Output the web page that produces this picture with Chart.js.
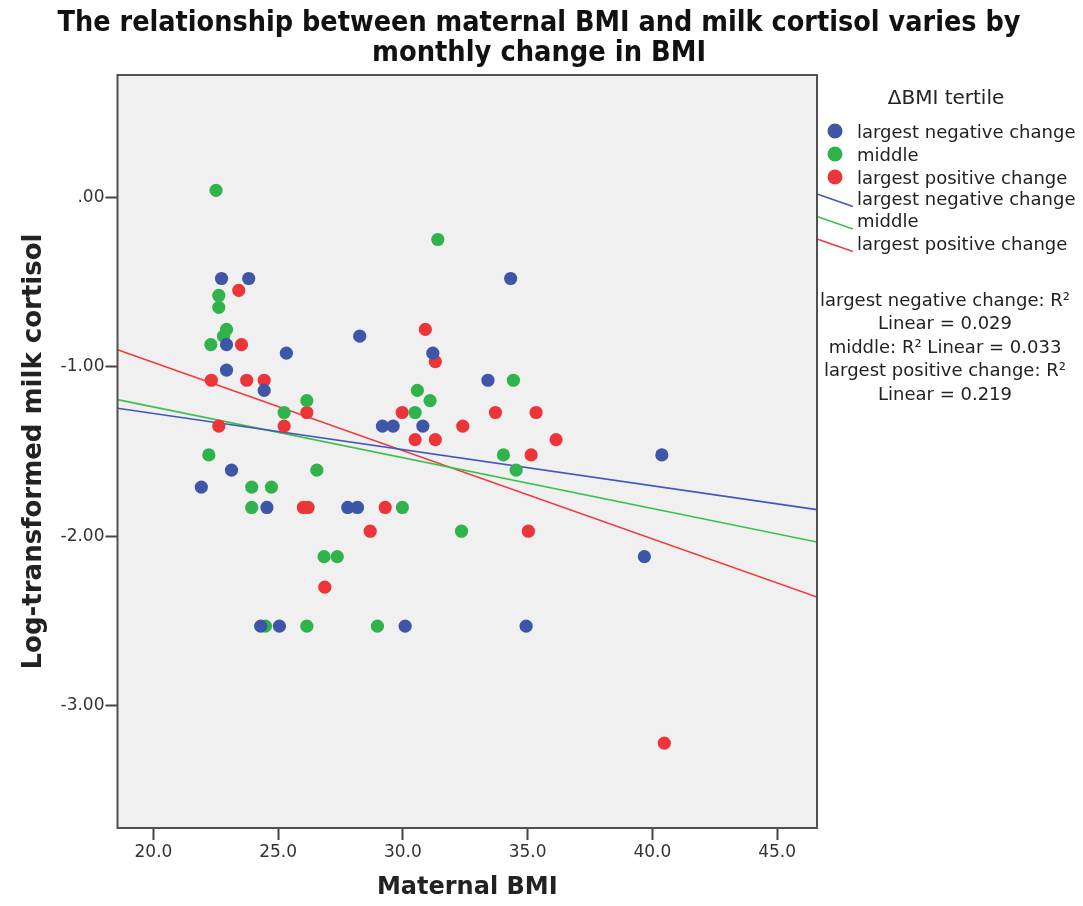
<!DOCTYPE html>
<html>
<head>
<meta charset="utf-8">
<title>Maternal BMI and milk cortisol</title>
<script src="https://cdn.jsdelivr.net/npm/chart.js@4.4.0/dist/chart.umd.min.js"></script>
<style>
  html, body { margin: 0; padding: 0; background: #fff; }
  #wrap { width: 1083px; height: 906px; }
</style>
</head>
<body>
<div id="wrap"><canvas id="chart" width="1083" height="906"></canvas></div>
<script>
// maternal BMI (x) and log-transformed milk cortisol (y), split by ΔBMI tertile
const negBMI = [21.92, 22.73, 23.82, 22.93, 22.93, 25.33, 24.44, 23.13, 24.55, 24.30, 25.05, 28.27,
  31.20, 29.18, 29.61, 30.80, 27.79, 28.18, 30.09, 34.32, 33.41, 34.94, 40.38, 39.68];
const negCortisol = [-1.71, -0.48, -0.48, -0.87, -1.02, -0.92, -1.14, -1.61, -1.83, -2.53, -2.53, -0.82,
  -0.92, -1.35, -1.35, -1.35, -1.83, -1.83, -2.53, -0.48, -1.08, -2.53, -1.52, -2.12];

const midBMI = [22.51, 22.62, 22.62, 22.93, 22.81, 22.30, 31.40, 25.24, 22.22, 23.94, 24.73, 23.94,
  24.49, 26.15, 30.58, 31.09, 30.49, 26.55, 29.98, 32.35, 26.84, 27.37, 26.15, 28.98, 34.43, 34.03, 34.54];
const midCortisol = [0.04, -0.58, -0.65, -0.78, -0.82, -0.87, -0.25, -1.27, -1.52, -1.71, -1.71, -1.83,
  -2.53, -1.20, -1.14, -1.20, -1.27, -1.61, -1.83, -1.97, -2.12, -2.12, -2.53, -2.53, -1.08, -1.52, -1.61];

const posBMI = [23.42, 23.53, 22.32, 23.74, 24.44, 25.24, 22.62, 30.90, 31.30, 26.15, 29.97, 30.49,
  31.30, 32.40, 26.01, 26.20, 29.29, 28.69, 26.87, 33.71, 35.34, 36.14, 35.14, 35.03, 40.48];
const posCortisol = [-0.55, -0.87, -1.08, -1.08, -1.08, -1.35, -1.35, -0.78, -0.97, -1.27, -1.27, -1.43,
  -1.43, -1.35, -1.83, -1.83, -1.83, -1.97, -2.30, -1.27, -1.27, -1.43, -1.52, -1.97, -3.22];

// linear fit lines, value at each end of the BMI range
const fitBMI = [18.56, 46.6];
const negFit = [-1.245, -1.843];
const midFit = [-1.194, -2.034];
const posFit = [-0.90, -2.358];

const groupNames = ['largest negative change', 'middle', 'largest positive change'];
const r2Lines = ['largest negative change: R\u00B2', 'Linear = 0.029', 'middle: R\u00B2 Linear = 0.033',
  'largest positive change: R\u00B2', 'Linear = 0.219'];

const xTicks = [20, 25, 30, 35, 40, 45];
const yTicks = [-3, -2, -1, 0];

const dotColors = ['#3D56A8', '#31B34B', '#EC3539'];
const lineColors = ['#4256BE', '#3CC04C', '#F03A3F'];

const zip = (xs, ys) => xs.map((x, i) => ({ x: x, y: ys[i] }));

function dots(label, xs, ys, color) {
  return {
    label: label, data: zip(xs, ys), order: 1,
    backgroundColor: color, borderWidth: 0, pointRadius: 6.6, pointHoverRadius: 6.6
  };
}

function fit(label, ys, color) {
  return {
    type: 'line', label: label, data: zip(fitBMI, ys), order: 2,
    showLine: true, borderColor: color, borderWidth: 1.6, pointRadius: 0, fill: false
  };
}

const FONT = '"DejaVu Sans", "Liberation Sans", sans-serif';

// background, plot frame, title and legend
const decorations = {
  id: 'decorations',
  beforeDraw(chart) {
    const { ctx, chartArea: a } = chart;
    ctx.save();
    ctx.fillStyle = '#fff';
    ctx.fillRect(0, 0, chart.width, chart.height);
    ctx.fillStyle = '#F0F0F0';
    ctx.fillRect(a.left, a.top, a.right - a.left, a.bottom - a.top);
    ctx.restore();
  },
  afterDraw(chart) {
    const { ctx, chartArea: a } = chart;
    ctx.save();

    // title, squeezed to a condensed look
    ctx.fillStyle = '#111';
    ctx.textAlign = 'center';
    ctx.textBaseline = 'alphabetic';
    ctx.font = 'bold 28px ' + FONT;
    [['The relationship between maternal BMI and milk cortisol varies by', 31, 963],
     ['monthly change in BMI', 61, 334]].forEach(([txt, y, w]) => {
      const s = w / ctx.measureText(txt).width;
      ctx.save();
      ctx.translate(539, y);
      ctx.scale(s, 1);
      ctx.fillText(txt, 0, 0);
      ctx.restore();
    });

    // legend
    ctx.fillStyle = '#222';
    ctx.textBaseline = 'middle';
    ctx.font = '20px ' + FONT;
    ctx.fillText('\u0394BMI tertile', 946, 99);

    ctx.textAlign = 'left';
    ctx.font = '18px ' + FONT;
    groupNames.forEach((name, i) => {
      const y = 131 + i * 23;
      ctx.fillStyle = dotColors[i];
      ctx.beginPath();
      ctx.arc(835, y, 7.5, 0, Math.PI * 2);
      ctx.fill();
      ctx.fillStyle = '#222';
      ctx.fillText(name, 857, y + 2);
    });
    groupNames.forEach((name, i) => {
      const y = 194 + i * 22.5;
      ctx.strokeStyle = lineColors[i];
      ctx.lineWidth = 1.5;
      ctx.beginPath();
      ctx.moveTo(817, y);
      ctx.lineTo(853, y + 12.5);
      ctx.stroke();
      ctx.fillStyle = '#222';
      ctx.fillText(name, 857, y + 6);
    });

    ctx.textAlign = 'center';
    ctx.font = '18px ' + FONT;
    r2Lines.forEach((txt, i) => {
      ctx.fillText(txt, 945, 301 + i * 23.6);
    });

    // plot frame
    ctx.strokeStyle = '#505050';
    ctx.lineWidth = 2;
    ctx.strokeRect(a.left, a.top, a.right - a.left, a.bottom - a.top);
    ctx.restore();
  }
};

new Chart(document.getElementById('chart'), {
  type: 'scatter',
  data: {
    datasets: [
      dots(groupNames[0], negBMI, negCortisol, dotColors[0]),
      dots(groupNames[1], midBMI, midCortisol, dotColors[1]),
      dots(groupNames[2], posBMI, posCortisol, dotColors[2]),
      fit(groupNames[0], negFit, lineColors[0]),
      fit(groupNames[1], midFit, lineColors[1]),
      fit(groupNames[2], posFit, lineColors[2])
    ]
  },
  options: {
    responsive: false,
    animation: false,
    devicePixelRatio: 1,
    layout: { padding: { top: 75, right: 266, bottom: 0, left: 0 } },
    plugins: { legend: { display: false }, tooltip: { enabled: false } },
    scales: {
      x: {
        type: 'linear', min: 18.56, max: 46.6,
        afterFit: s => { s.height = 78; },
        afterBuildTicks: s => { s.ticks = xTicks.map(v => ({ value: v })); },
        grid: { drawOnChartArea: false, drawTicks: true, tickLength: 12, tickColor: '#444', tickWidth: 2 },
        border: { display: false },
        ticks: { color: '#333', font: { family: FONT, size: 17 }, padding: 2,
          callback: v => v.toFixed(1) },
        title: { display: true, text: 'Maternal BMI', color: '#222',
          font: { family: FONT, size: 24, weight: 'bold' }, padding: { top: 0, bottom: 4 } }
      },
      y: {
        type: 'linear', min: -3.72, max: 0.72,
        afterFit: s => { s.width = 117.5; },
        afterBuildTicks: s => { s.ticks = yTicks.map(v => ({ value: v })); },
        grid: { drawOnChartArea: false, drawTicks: true, tickLength: 12, tickColor: '#444', tickWidth: 2 },
        border: { display: false },
        ticks: { color: '#333', font: { family: FONT, size: 17 }, padding: 1,
          callback: v => (v === 0 ? '.00' : v.toFixed(2)) },
        title: { display: true, text: 'Log-transformed milk cortisol', color: '#222',
          font: { family: FONT, size: 26, weight: 'bold' }, padding: { top: 19, bottom: 0 } }
      }
    }
  },
  plugins: [decorations]
});
</script>
</body>
</html>
